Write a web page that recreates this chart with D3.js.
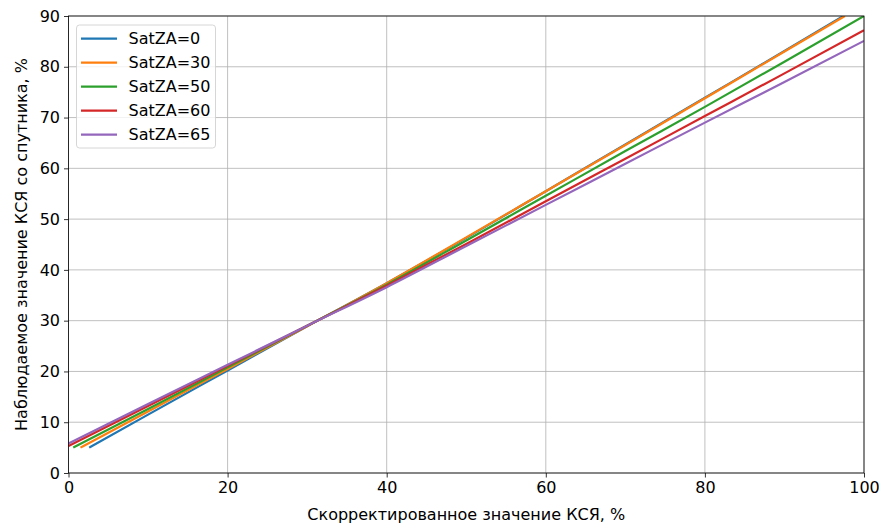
<!DOCTYPE html>
<html>
<head>
<meta charset="utf-8">
<script src="https://cdn.jsdelivr.net/npm/d3@7"></script>
<style>
  body { margin: 0; background: #fff; }
  svg { font-family: "DejaVu Sans", sans-serif; }
</style>
</head>
<body>
<svg id="chart" width="879" height="524"></svg>
<script>
// Data
const labels = ['SatZA=0', 'SatZA=30', 'SatZA=50', 'SatZA=60', 'SatZA=65'];
const colors = ['#1f77b4', '#ff7f0e', '#2ca02c', '#d62728', '#9467bd'];

const sat0x  = [2.6, 10, 20, 30, 40, 50, 60, 70, 80, 90, 97.4];
const sat0y  = [5.0, 11.5, 20.2, 28.9, 37.4, 46.3, 55.5, 64.7, 73.9, 83.1, 90.0];
const sat30x = [1.5, 10, 20, 30, 40, 50, 60, 70, 80, 90, 97.6];
const sat30y = [5.0, 12.1, 20.5, 28.9, 37.4, 46.4, 55.5, 64.6, 73.8, 83.0, 90.0];
const sat50x = [0.6, 10, 20, 30, 40, 50, 60, 70, 80, 90, 100];
const sat50y = [5.0, 12.6, 20.8, 29.0, 37.1, 45.8, 54.6, 63.4, 72.1, 81.0, 90.0];
const sat60x = [0, 10, 20, 30, 40, 50, 60, 70, 80, 90, 100];
const sat60y = [5.3, 13.2, 21.1, 29.0, 36.9, 45.1, 53.5, 61.9, 70.3, 78.7, 87.2];
const sat65x = [0, 10, 20, 30, 40, 50, 60, 70, 80, 90, 100];
const sat65y = [5.8, 13.6, 21.3, 29.0, 36.6, 44.7, 52.8, 60.9, 69.0, 77.0, 85.1];

const xTicks = [0, 20, 40, 60, 80, 100];
const yTicks = [0, 10, 20, 30, 40, 50, 60, 70, 80, 90];

const series = [
  [sat0x, sat0y], [sat30x, sat30y], [sat50x, sat50y], [sat60x, sat60y], [sat65x, sat65y]
].map((s, i) => ({
  label: labels[i],
  color: colors[i],
  points: s[0].map((x, j) => [x, s[1][j]])
}));

const svg = d3.select('#chart');
const plotLeft = 68.5, plotRight = 864, plotTop = 16, plotBottom = 473;
const fontSize = '16px';

const x = d3.scaleLinear().domain([0, 100]).range([plotLeft, plotRight]);
const y = d3.scaleLinear().domain([0, 90]).range([plotBottom, plotTop]);

// grid
svg.append('g')
  .selectAll('line')
  .data(xTicks)
  .join('line')
  .attr('x1', d => x(d)).attr('x2', d => x(d))
  .attr('y1', plotTop).attr('y2', plotBottom)
  .attr('stroke', '#b0b0b0').attr('stroke-width', 0.8);
svg.append('g')
  .selectAll('line')
  .data(yTicks)
  .join('line')
  .attr('x1', plotLeft).attr('x2', plotRight)
  .attr('y1', d => y(d)).attr('y2', d => y(d))
  .attr('stroke', '#b0b0b0').attr('stroke-width', 0.8);

// clip for lines
svg.append('clipPath').attr('id', 'plot-clip')
  .append('rect')
  .attr('x', plotLeft).attr('y', plotTop)
  .attr('width', plotRight - plotLeft).attr('height', plotBottom - plotTop);

const line = d3.line()
  .x(d => x(d[0]))
  .y(d => y(d[1]))
  .curve(d3.curveMonotoneX);

svg.append('g')
  .attr('clip-path', 'url(#plot-clip)')
  .selectAll('path')
  .data(series)
  .join('path')
  .attr('d', d => line(d.points))
  .attr('fill', 'none')
  .attr('stroke', d => d.color)
  .attr('stroke-width', 2.2);

// axes
const xAxis = svg.append('g')
  .attr('transform', `translate(0,${plotBottom})`)
  .call(d3.axisBottom(x).tickValues(xTicks).tickSize(4.5).tickPadding(4.5));
const yAxis = svg.append('g')
  .attr('transform', `translate(${plotLeft},0)`)
  .call(d3.axisLeft(y).tickValues(yTicks).tickSize(4.5).tickPadding(4));

[xAxis, yAxis].forEach(a => {
  a.select('.domain').remove();
  a.selectAll('.tick line').attr('stroke', '#000').attr('stroke-width', 0.8);
  a.selectAll('.tick text')
    .attr('fill', '#000')
    .style('font-size', fontSize)
    .style('font-family', '"DejaVu Sans", sans-serif');
});

// frame
svg.append('rect')
  .attr('x', plotLeft).attr('y', plotTop)
  .attr('width', plotRight - plotLeft).attr('height', plotBottom - plotTop)
  .attr('fill', 'none').attr('stroke', '#000').attr('stroke-width', 0.8);

// axis labels
svg.append('text')
  .attr('x', (plotLeft + plotRight) / 2).attr('y', 520)
  .attr('text-anchor', 'middle')
  .style('font-size', fontSize)
  .text('Скорректированное значение КСЯ, %');

svg.append('text')
  .attr('transform', `translate(27,${(plotTop + plotBottom) / 2}) rotate(-90)`)
  .attr('text-anchor', 'middle')
  .style('font-size', fontSize)
  .text('Наблюдаемое значение КСЯ со спутника, %');

// legend
const legend = svg.append('g');
legend.append('rect')
  .attr('x', 76.5).attr('y', 25)
  .attr('width', 139).attr('height', 123)
  .attr('rx', 3)
  .attr('fill', '#fff').attr('fill-opacity', 0.8)
  .attr('stroke', '#cccccc').attr('stroke-width', 0.8);

const item = legend.selectAll('g.item')
  .data(series)
  .join('g')
  .attr('class', 'item')
  .attr('transform', (d, i) => `translate(0,${38.7 + i * 24})`);
item.append('line')
  .attr('x1', 81).attr('x2', 117)
  .attr('stroke', d => d.color).attr('stroke-width', 2.2);
item.append('text')
  .attr('x', 128.5).attr('dy', '0.35em')
  .style('font-size', fontSize)
  .text(d => d.label);
</script>
</body>
</html>
